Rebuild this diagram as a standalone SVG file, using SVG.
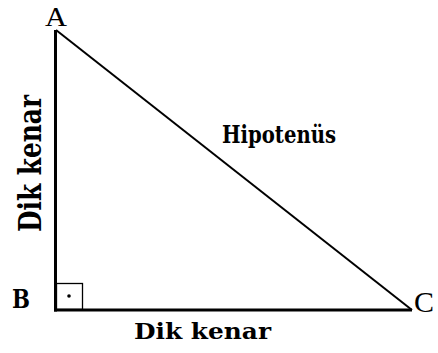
<svg xmlns="http://www.w3.org/2000/svg" width="438" height="353" viewBox="0 0 438 353">
<style>
text{font-family:"Liberation Serif","Times New Roman",serif;fill:#000}
.b{font-family:"DejaVu Serif",serif;font-weight:bold}
.edge{stroke:#000;fill:none}
</style>
<rect width="438" height="353" fill="#fff"/>
<g id="connectors">
<line class="edge" x1="55.5" y1="30" x2="55.5" y2="311.5" stroke-width="3"/>
<line class="edge" x1="54" y1="310" x2="412" y2="310" stroke-width="3"/>
<line class="edge" x1="56" y1="30" x2="412" y2="310" stroke-width="2"/>
</g>
<g id="right-angle">
<rect x="56.5" y="283.5" width="26" height="26" fill="none" stroke="#000" stroke-width="1.3"/>
<circle cx="69" cy="296" r="1.8" fill="#000"/>
</g>
<g id="A"><text x="45" y="25.5" font-size="28" textLength="22" lengthAdjust="spacingAndGlyphs">A</text></g>
<g id="B"><text class="b" x="12" y="308" font-size="26" textLength="18" lengthAdjust="spacingAndGlyphs">B</text></g>
<g id="C"><text x="414" y="312" font-size="29" textLength="20" lengthAdjust="spacingAndGlyphs">C</text></g>
<g id="hipotenus"><text class="b" x="222" y="143" font-size="24" textLength="114" lengthAdjust="spacingAndGlyphs">Hipotenüs</text></g>
<g id="dik-kenar-bottom"><text class="b" x="134" y="339" font-size="23" textLength="137" lengthAdjust="spacingAndGlyphs">Dik kenar</text></g>
<g id="dik-kenar-left"><text class="b" transform="translate(41,232) rotate(-90)" x="0" y="0" font-size="31" textLength="137" lengthAdjust="spacingAndGlyphs">Dik kenar</text></g>
</svg>
